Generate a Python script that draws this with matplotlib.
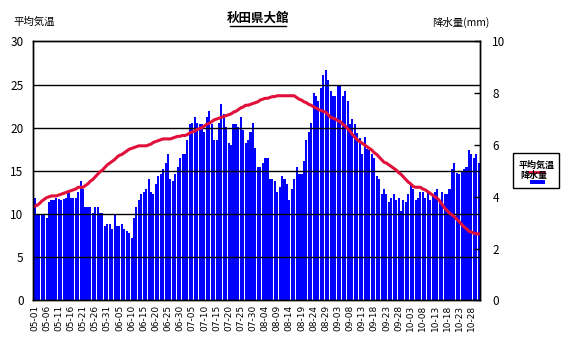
import datetime as dt

import matplotlib.pyplot as plt
from matplotlib.lines import Line2D
from matplotlib.patches import Rectangle

plt.rcParams['font.family'] = ['Noto Sans CJK JP', 'DejaVu Sans']

title = "秋田県大館"
left_label = "平均気温"
right_label = "降水量(mm)"
line_name = "平均気温"
bar_name = "降水量"

start_date = dt.date(2000, 5, 1)
n_days = 184

# daily bar heights (read on the left 0-30 scale)
bar_values = [
    11.9, 10.0, 9.9, 9.9, 9.9, 9.5, 11.4, 11.6, 11.6, 11.9,
    11.7, 11.6, 11.7, 11.9, 12.4, 11.9, 11.9, 11.9, 12.5, 13.8,
    12.9, 10.8, 10.8, 10.8, 10.1, 10.8, 10.8, 10.1, 10.1, 8.6,
    8.9, 8.9, 8.3, 9.9, 8.6, 8.6, 8.9, 8.3, 8.0, 7.8,
    7.2, 9.5, 10.8, 11.6, 12.3, 12.5, 12.9, 14.0, 12.5, 12.3,
    13.5, 14.4, 14.6, 15.2, 15.9, 17.0, 14.0, 13.8, 14.6, 15.5,
    16.5, 17.0, 17.0, 18.6, 20.4, 20.6, 21.2, 20.6, 20.4, 20.4,
    19.5, 21.2, 21.9, 20.4, 18.6, 18.6, 20.6, 22.7, 21.6, 20.1,
    18.2, 18.0, 20.4, 20.4, 20.1, 21.2, 19.7, 18.2, 18.6, 19.5,
    20.6, 17.6, 15.5, 15.5, 15.9, 16.5, 16.5, 14.0, 14.0, 13.8,
    12.5, 13.1, 14.4, 14.0, 13.5, 11.6, 12.9, 14.0, 15.5, 14.6,
    14.6, 16.1, 18.6, 19.5, 20.6, 24.0, 23.7, 23.1, 24.6, 26.1,
    26.7, 25.5, 24.2, 23.7, 23.7, 24.8, 24.8, 23.7, 24.2, 23.1,
    20.4, 21.0, 20.4, 19.4, 18.8, 17.0, 18.9, 17.5, 17.4, 17.0,
    16.5, 14.4, 14.0, 12.3, 12.9, 12.3, 11.4, 11.9, 12.3, 11.6,
    11.9, 10.4, 11.6, 11.4, 12.3, 13.5, 12.9, 11.6, 11.9, 12.5,
    12.5, 11.9, 12.5, 11.6, 12.3, 12.5, 12.9, 11.6, 12.5, 12.3,
    12.3, 12.9, 15.2, 15.9, 14.8, 14.6, 15.0, 15.2, 15.5, 17.4,
    17.0, 16.5, 17.0, 15.9,
]

# daily values of the red line
line_values = [
    10.9, 11.0, 11.2, 11.5, 11.7, 11.9, 12.0, 12.1, 12.1, 12.1,
    12.2, 12.3, 12.4, 12.5, 12.6, 12.7, 12.8, 12.9, 13.1, 13.1,
    13.1, 13.3, 13.5, 13.8, 14.0, 14.3, 14.6, 14.9, 15.1, 15.4,
    15.7, 15.9, 16.1, 16.3, 16.6, 16.8, 16.9, 17.1, 17.3, 17.5,
    17.6, 17.7, 17.8, 17.9, 17.9, 17.9, 17.9, 18.0, 18.1, 18.3,
    18.4, 18.5, 18.6, 18.7, 18.7, 18.7, 18.7, 18.8, 18.9, 19.0,
    19.0, 19.1, 19.1, 19.2, 19.4, 19.5, 19.6, 19.8, 19.9, 20.0,
    20.2, 20.4, 20.5, 20.7, 20.9, 21.0, 21.1, 21.2, 21.3, 21.4,
    21.5, 21.6, 21.8, 21.9, 22.1, 22.3, 22.4, 22.6, 22.6, 22.7,
    22.8, 22.9, 23.0, 23.2, 23.3, 23.4, 23.4, 23.5, 23.6, 23.6,
    23.7, 23.7, 23.7, 23.7, 23.7, 23.7, 23.7, 23.7, 23.5, 23.3,
    23.2, 23.0, 22.9, 22.7, 22.6, 22.4, 22.3, 22.1, 22.0, 21.9,
    21.8, 21.5, 21.2, 21.1, 21.0, 20.8, 20.7, 20.4, 20.2, 19.9,
    19.6, 19.2, 18.9, 18.6, 18.4, 18.2, 18.0, 17.8, 17.6, 17.4,
    17.1, 16.9, 16.6, 16.3, 16.0, 15.9, 15.7, 15.5, 15.3, 15.1,
    14.8, 14.6, 14.3, 14.0, 13.7, 13.5, 13.2, 13.1, 13.1, 13.1,
    12.9, 12.8, 12.6, 12.4, 12.2, 12.0, 11.8, 11.5, 11.1, 10.7,
    10.4, 10.1, 9.9, 9.7, 9.4, 9.1, 8.8, 8.5, 8.3, 8.0,
    7.9, 7.8, 7.7, 7.7,
]

left_ticks = [0, 5, 10, 15, 20, 25, 30]
right_ticks = [0, 2, 4, 6, 8, 10]

days = list(range(n_days))
dates = [start_date + dt.timedelta(days=d) for d in days]
tick_pos = days[::5]
tick_labels = [dates[d].strftime("%m-%d") for d in tick_pos]

fig = plt.figure(figsize=(5.74, 3.39), dpi=100)
ax = fig.add_axes([0.058, 0.114, 0.778, 0.764])

ax.bar(days, bar_values, width=0.85, color="#0000ff", linewidth=0, zorder=2)
for t in left_ticks[1:-1]:
    ax.axhline(t, color="black", linewidth=1.0, zorder=3)
ax.plot(days, line_values, color="#e0103a", linewidth=2.2, zorder=4)

ax.set_xlim(-0.5, n_days - 0.5)
ax.set_ylim(0, 30)
ax.set_yticks(left_ticks)
ax.tick_params(axis="y", length=0, pad=7, labelsize=8.5)
ax.set_xticks(tick_pos)
ax.set_xticklabels(tick_labels, rotation=90, fontsize=6.5, family="DejaVu Sans")
ax.tick_params(axis="x", length=0, pad=3)
for s in ax.spines.values():
    s.set_color("black")
    s.set_linewidth(1.0)

ax2 = ax.twinx()
ax2.set_ylim(0, 10)
ax2.set_yticks(right_ticks)
ax2.tick_params(axis="y", direction="in", length=4, width=1, pad=9, labelsize=8.5)
for s in ax2.spines.values():
    s.set_color("black")
    s.set_linewidth(1.0)

# titles
fig.text(0.449, 0.947, title, ha="center", va="center", fontsize=9,
         fontweight="bold")
fig.add_artist(Line2D([0.400, 0.498], [0.923, 0.923], color="black",
                      linewidth=1.0, transform=fig.transFigure))
fig.text(0.023, 0.935, left_label, ha="left", va="center", fontsize=7.5)
fig.text(0.853, 0.935, right_label, ha="right", va="center", fontsize=7.5)

# legend box
fig.add_artist(Rectangle((0.893, 0.445), 0.080, 0.103, transform=fig.transFigure,
                         facecolor="white", edgecolor="black", linewidth=1.0))
fig.text(0.935, 0.513, line_name, ha="center", va="center", fontsize=6.5,
         fontweight="bold")
fig.add_artist(Line2D([0.922, 0.948], [0.492, 0.492], color="#e0103a",
                      linewidth=2.0, transform=fig.transFigure))
fig.text(0.930, 0.483, bar_name, ha="center", va="center", fontsize=6.5,
         fontweight="bold")
fig.add_artist(Rectangle((0.924, 0.458), 0.026, 0.010, transform=fig.transFigure,
                         facecolor="#0000ff", edgecolor="none"))

fig.savefig("out.png", dpi=100)
